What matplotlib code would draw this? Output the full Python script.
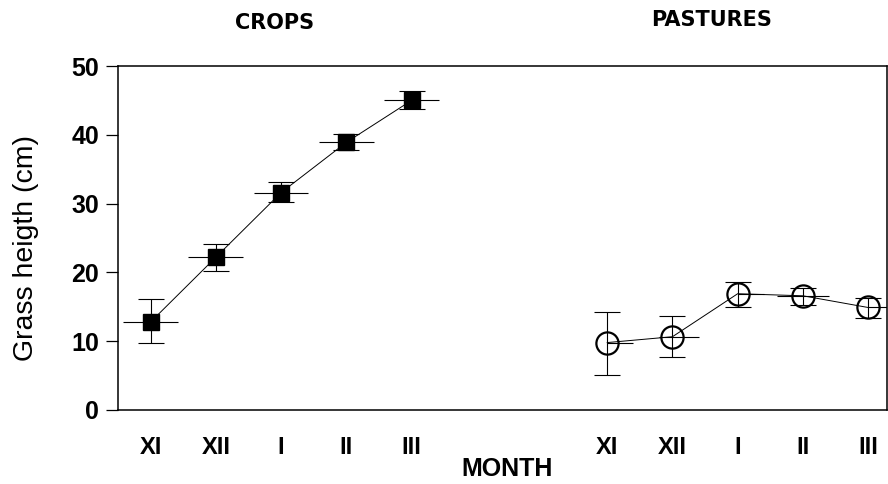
import numpy as np
import matplotlib
matplotlib.use("Agg")
import matplotlib.pyplot as plt

plt.rcParams['font.family'] = ['Liberation Sans', 'DejaVu Sans']

months = ["XI", "XII", "I", "II", "III"]

# crops (x positions 0..4)
crops_x = [0, 1, 2, 3, 4]
crops_y = [12.8, 22.2, 31.6, 38.9, 45.0]
crops_up = [3.4, 1.9, 1.5, 1.2, 1.4]
crops_lo = [3.0, 2.0, 1.4, 1.1, 1.2]
crops_xerr = [0.42, 0.42, 0.42, 0.42, 0.42]

# pastures (x positions 7..11)
past_x = [7, 8, 9, 10, 11]
past_y = [9.8, 10.65, 16.9, 16.6, 14.9]
past_up = [4.4, 2.95, 1.65, 1.1, 1.4]
past_lo = [4.7, 2.9, 1.9, 1.35, 1.5]
past_xerr_l = [0.0, 0.2, 0.0, 0.4, 0.0]
past_xerr_r = [0.4, 0.4, 0.4, 0.4, 0.4]

fig = plt.figure(figsize=(8.88, 4.84), dpi=100)
ax = fig.add_axes([0.1329, 0.1529, 0.866, 0.7107])

# horizontal bars (no caps)
ax.errorbar(crops_x, crops_y, xerr=crops_xerr, fmt='none', ecolor='k', elinewidth=0.8, capsize=0)
ax.errorbar(past_x, past_y, xerr=[past_xerr_l, past_xerr_r], fmt='none', ecolor='k', elinewidth=0.8, capsize=0)

# vertical bars with caps
ax.errorbar(crops_x, crops_y, yerr=[crops_lo, crops_up], fmt='none', ecolor='k',
            elinewidth=0.8, capsize=9.7, capthick=0.8)
ax.errorbar(past_x, past_y, yerr=[past_lo, past_up], fmt='none', ecolor='k',
            elinewidth=0.8, capsize=9.7, capthick=0.8)

# lines + markers
ax.plot(crops_x, crops_y, '-s', color='k', lw=0.7, ms=11, mfc='k', mec='k')
ax.plot(past_x, past_y, '-o', color='k', lw=0.7, ms=16, mfc='none', mec='k', mew=1.6)

ax.set_xlim(-0.5, 11.29)
ax.set_ylim(0, 50)

ax.set_yticks([0, 10, 20, 30, 40, 50])
ax.set_yticklabels(['0', '10', '20', '30', '40', '50'], fontsize=18, fontweight='bold')
ax.set_xticks(crops_x + past_x)
ax.set_xticklabels(months + months, fontsize=17, fontweight='bold')

ax.tick_params(axis='y', direction='out', length=8.6, width=0.9, pad=5)
ax.tick_params(axis='x', length=0, pad=19)

for s in ax.spines.values():
    s.set_linewidth(1.1)

fig.text(26 / 888, 1 - 248 / 484, "Grass heigth (cm)", fontsize=20.5, rotation=90,
         ha='center', va='center')
fig.text(507 / 888, 3 / 484, "MONTH", fontsize=18, fontweight='bold',
         ha='center', va='bottom')

fig.text(275 / 888, 1 - 23 / 484, "CROPS", fontsize=15, fontweight='bold',
         family='DejaVu Sans', ha='center', va='center')
fig.text(712 / 888, 1 - 20 / 484, "PASTURES", fontsize=15, fontweight='bold',
         family='DejaVu Sans', ha='center', va='center')

fig.savefig("out.png", dpi=100)
